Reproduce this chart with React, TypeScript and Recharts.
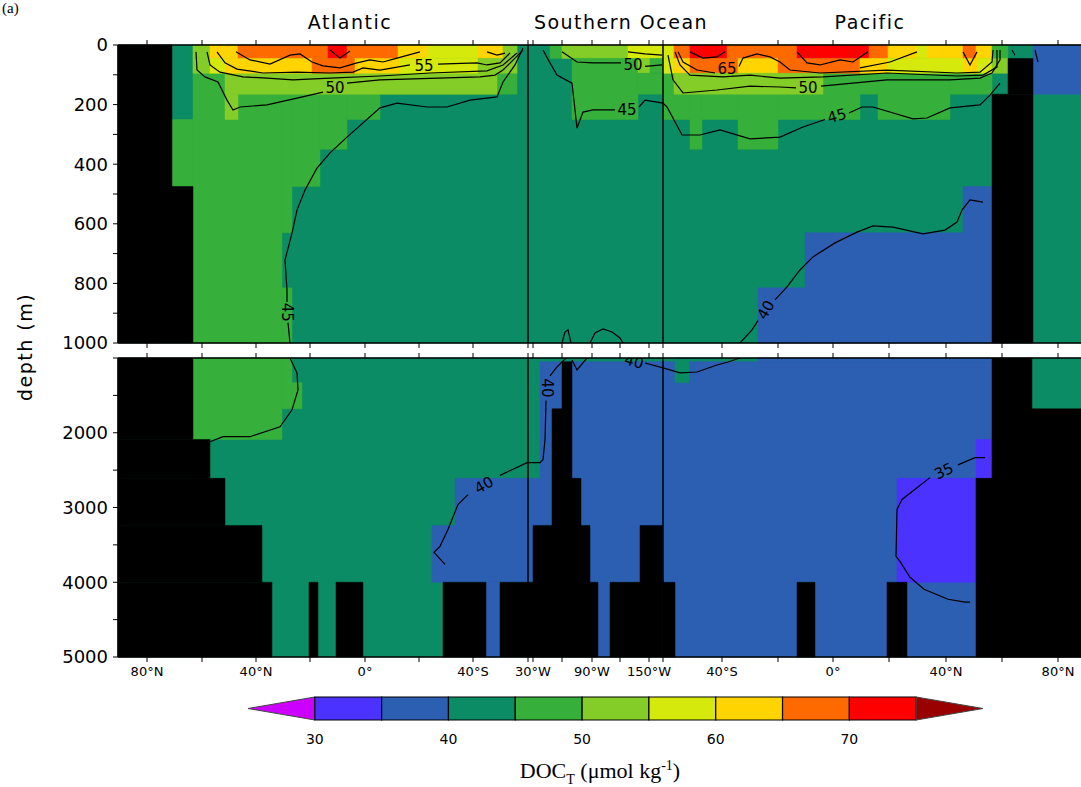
import React from "react";
import {
  ComposedChart,
  XAxis,
  YAxis,
  ReferenceArea,
  ReferenceLine,
  Scatter,
} from "recharts";

// DOC_T classes (umol/kg): lower bound of each 5-unit class and its colour
const binLows = [30, 35, 40, 45, 50, 55, 60, 65, 70];
const binColors = [
  "#4b32ff",
  "#2c5fb2",
  "#0b8c64",
  "#37af3b",
  "#84cc27",
  "#d5ea0c",
  "#ffd400",
  "#ff6a00",
  "#ff0000",
];
const underColor = "#cc00ff";
const overColor = "#990000";
const colorbarTicks = [30, 40, 50, 60, 70];

// distance along the section (grid units): Atlantic 90N -> Southern Ocean -> Pacific 90N
const sectionTicks = [29, 84, 138, 192, 247, 301, 355, 410, 415, 444, 474, 502, 531, 545, 604, 660, 715, 771, 828, 884, 940];
const sectionTickNames = ["80°N", "", "40°N", "", "0°", "", "40°S", "", "30°W", "", "90°W", "", "150°W", "", "40°S", "", "0°", "", "40°N", "", "80°N"];
const basinBreaks = [410, 545];

const upperDepthTicks = [0, 100, 200, 300, 400, 500, 600, 700, 800, 900, 1000];
const deepDepthTicks = [1000, 1500, 2000, 2500, 3000, 3500, 4000, 4500, 5000];

// cells: [dist from, dist to, depth from, depth to, class (0 = land)], painted in order
const upperCells = [
  [0, 963, 0, 1000, 40],
  // Atlantic
  [54, 75, 250, 475, 45],
  [75, 164, 0, 1000, 45],
  [164, 174, 0, 630, 45],
  [164, 174, 815, 1000, 45],
  [174, 202, 0, 475, 45],
  [202, 229, 0, 350, 45],
  [229, 262, 0, 250, 45],
  [262, 399, 0, 165, 45],
  [107, 379, 95, 165, 50],
  [107, 120, 165, 250, 50],
  [75, 92, 0, 45, 50],
  [92, 120, 0, 45, 60],
  [120, 210, 0, 45, 65],
  [210, 229, 0, 45, 70],
  [229, 280, 0, 45, 65],
  [280, 309, 0, 45, 60],
  [309, 360, 0, 45, 55],
  [360, 385, 0, 45, 60],
  [385, 399, 0, 45, 50],
  [75, 92, 45, 95, 50],
  [92, 107, 45, 95, 55],
  [107, 194, 45, 95, 60],
  [194, 237, 45, 95, 65],
  [237, 282, 45, 95, 60],
  [282, 360, 45, 95, 55],
  [360, 399, 45, 95, 50],
  [0, 54, 0, 1000, 0],
  [54, 75, 475, 1000, 0],
  // Southern Ocean
  [432, 444, 0, 45, 45],
  [444, 510, 0, 45, 50],
  [510, 545, 0, 45, 55],
  [454, 520, 45, 250, 45],
  [520, 532, 45, 95, 50],
  [532, 545, 45, 95, 45],
  [520, 545, 95, 165, 45],
  // Pacific
  [545, 572, 0, 250, 45],
  [572, 584, 0, 350, 45],
  [584, 620, 0, 250, 45],
  [620, 660, 0, 350, 45],
  [660, 742, 0, 250, 45],
  [742, 760, 0, 165, 45],
  [760, 832, 0, 250, 45],
  [832, 874, 0, 165, 45],
  [545, 556, 0, 45, 55],
  [556, 572, 0, 45, 65],
  [572, 609, 0, 45, 70],
  [609, 679, 0, 45, 65],
  [679, 751, 0, 45, 70],
  [751, 770, 0, 45, 65],
  [770, 799, 0, 45, 60],
  [799, 809, 0, 45, 55],
  [809, 845, 0, 45, 60],
  [845, 858, 0, 45, 65],
  [858, 874, 0, 45, 60],
  [874, 890, 0, 45, 45],
  [915, 963, 0, 165, 35],
  [545, 556, 45, 95, 55],
  [556, 572, 45, 95, 60],
  [572, 620, 45, 95, 65],
  [620, 660, 45, 95, 60],
  [660, 742, 45, 95, 65],
  [742, 770, 45, 95, 60],
  [770, 845, 45, 95, 55],
  [845, 860, 45, 95, 60],
  [860, 874, 45, 95, 55],
  [874, 890, 45, 95, 50],
  [556, 705, 95, 165, 50],
  [640, 687, 815, 1000, 35],
  [687, 845, 630, 1000, 35],
  [845, 874, 475, 1000, 35],
  [874, 915, 165, 1000, 0],
  [890, 915, 45, 165, 0],
];

const deepCells = [
  [0, 963, 1000, 5000, 40],
  // Atlantic
  [75, 164, 1000, 2090, 45],
  [164, 174, 1000, 1680, 45],
  [174, 184, 1330, 1680, 45],
  [314, 337, 3240, 4000, 35],
  [337, 410, 2610, 4000, 35],
  [368, 382, 4000, 5000, 35],
  [0, 75, 1000, 2090, 0],
  [0, 92, 2090, 2610, 0],
  [0, 107, 2610, 3240, 0],
  [0, 144, 3240, 4000, 0],
  [0, 154, 4000, 5000, 0],
  [191, 200, 4000, 5000, 0],
  [218, 245, 4000, 5000, 0],
  [325, 368, 4000, 5000, 0],
  [382, 410, 4000, 5000, 0],
  // Southern Ocean
  [422, 545, 1050, 5000, 35],
  [410, 422, 2610, 4000, 35],
  [444, 454, 1050, 5000, 0],
  [434, 444, 1680, 5000, 0],
  [454, 463, 2610, 5000, 0],
  [415, 434, 3240, 5000, 0],
  [463, 472, 3240, 5000, 0],
  [410, 415, 4000, 5000, 0],
  [472, 480, 4000, 5000, 0],
  [492, 522, 4000, 5000, 0],
  [522, 545, 3240, 5000, 0],
  // Pacific
  [545, 874, 1050, 5000, 35],
  [640, 874, 1000, 1050, 35],
  [557, 571, 1000, 1330, 40],
  [779, 858, 2610, 4000, 30],
  [858, 874, 2090, 2610, 30],
  [545, 557, 4000, 5000, 0],
  [679, 697, 4000, 5000, 0],
  [769, 789, 4000, 5000, 0],
  [858, 963, 2610, 5000, 0],
  [874, 914, 1000, 5000, 0],
  [914, 963, 1680, 5000, 0],
];

// contour lines as [dist, depth] segments (gaps left for labels)
const upperContours = [
  [[405, 10], [397, 67], [385, 124], [379, 174], [352, 185], [329, 208], [309, 208], [279, 195], [262, 211], [229, 309], [212, 362], [199, 413], [187, 487], [179, 554], [174, 631], [167, 722], [169, 822], [169, 862]],
  [[170, 932], [172, 1000]],
  [[78, 23], [79, 84], [87, 107], [100, 124], [109, 185], [115, 218], [122, 208], [149, 201], [179, 178], [205, 158]],
  [[229, 128], [262, 117], [362, 107], [377, 101], [385, 84], [405, 17]],
  [[89, 23], [92, 67], [102, 91], [125, 107], [149, 111], [175, 117], [212, 111], [262, 104], [312, 94], [369, 87], [385, 67], [399, 27]],
  [[99, 23], [107, 60], [119, 81], [145, 94], [179, 91], [212, 94], [235, 91], [245, 77], [262, 84], [292, 67]],
  [[320, 64], [359, 60], [369, 67], [382, 60], [392, 27]],
  [[118, 23], [132, 50], [152, 64], [172, 34], [182, 30], [194, 57], [205, 70], [222, 77], [239, 60], [252, 50], [265, 57], [279, 44], [302, 23]],
  [[212, 17], [222, 44], [232, 20]],
  [[369, 23], [379, 34], [387, 27]],
  [[444, 23], [459, 57], [475, 60], [503, 60]],
  [[527, 72], [544, 67]],
  [[510, 23], [527, 30], [544, 34]],
  [[425, 17], [432, 60], [439, 101], [454, 128], [459, 279], [465, 225], [475, 218], [497, 218]],
  [[521, 208], [527, 185], [545, 195], [549, 208], [564, 302], [582, 302], [602, 285], [632, 315], [662, 309], [685, 275], [707, 250]],
  [[731, 228], [744, 208], [755, 208], [795, 248], [809, 245], [832, 211], [862, 201], [872, 168], [882, 128]],
  [[550, 34], [555, 117], [565, 161], [599, 151], [632, 138], [662, 141], [678, 144]],
  [[703, 138], [769, 117], [832, 117], [862, 111], [874, 94], [882, 50], [882, 17]],
  [[557, 23], [562, 67], [572, 101], [605, 107], [632, 101], [662, 111], [705, 107], [769, 94], [839, 104], [865, 101], [879, 74], [879, 17]],
  [[560, 23], [565, 57], [579, 84], [597, 94]],
  [[621, 72], [625, 44], [639, 30], [652, 40], [662, 57], [672, 84], [702, 94], [769, 84], [839, 94], [862, 91], [874, 57], [875, 17]],
  [[742, 77], [772, 57], [799, 23]],
  [[845, 23], [852, 67], [859, 23]],
  [[572, 23], [585, 44], [599, 40], [607, 23]],
  [[679, 23], [689, 60], [702, 67], [722, 50], [735, 57], [750, 23]],
  [[894, 17], [897, 34]],
  [[917, 17], [920, 57]],
  [[444, 1000], [447, 963], [450, 956], [453, 1000]],
  [[472, 1000], [477, 966], [485, 953], [494, 963], [502, 983], [505, 1000]],
  [[622, 1000], [634, 956], [640, 925]],
  [[657, 855], [669, 812], [682, 755], [695, 711], [717, 664], [739, 628], [755, 607], [775, 611], [805, 634], [827, 621], [839, 594], [844, 554], [852, 520], [865, 527]],
];

const deepContours = [
  [[172, 1000], [179, 1200], [180, 1427], [174, 1693], [162, 1920], [132, 2053], [105, 2053], [92, 2120]],
  [[448, 1000], [439, 1120], [432, 1240]],
  [[428, 1570], [427, 2093], [425, 2360], [422, 2400], [409, 2400], [382, 2570]],
  [[350, 2827], [340, 2960], [334, 3160], [330, 3293], [322, 3520], [316, 3600], [327, 3760]],
  [[527, 1067], [545, 1133], [562, 1200], [579, 1187], [599, 1093], [610, 1053], [622, 1000]],
  [[454, 1027], [459, 1160], [469, 1000]],
  [[867, 2333], [857, 2333], [840, 2430]],
  [[812, 2600], [784, 2893], [779, 3027], [778, 3653], [782, 3720], [792, 3933], [806, 4093], [830, 4227], [847, 4267], [852, 4267]],
];

// contour labels: dist, depth, text, angle
const upperLabels = [
  { u: 169, d: 897, t: "45", a: 90 },
  { u: 217, d: 144, t: "50", a: 0 },
  { u: 306, d: 71, t: "55", a: 0 },
  { u: 515, d: 67, t: "50", a: 0 },
  { u: 509, d: 218, t: "45", a: 0 },
  { u: 719, d: 238, t: "45", a: -15 },
  { u: 690, d: 144, t: "50", a: 0 },
  { u: 609, d: 81, t: "65", a: 0 },
  { u: 648, d: 889, t: "40", a: -60 },
];
const deepLabels = [
  { u: 429, d: 1400, t: "40", a: 90 },
  { u: 366, d: 2700, t: "40", a: -30 },
  { u: 516, d: 1050, t: "40", a: 15 },
  { u: 826, d: 2515, t: "35", a: -25 },
];

const font = "'DejaVu Sans', sans-serif";

const colorOf = (v: number) => (v === 0 ? "#000000" : binColors[binLows.indexOf(v)]);

function ContourLabel(props: any) {
  const { cx, cy, payload } = props;
  if (cx == null || cy == null) return <g />;
  return (
    <text
      x={cx}
      y={cy}
      transform={`rotate(${payload.a} ${cx} ${cy})`}
      textAnchor="middle"
      dominantBaseline="central"
      fontSize={15}
      fontFamily={font}
      fill="#000"
    >
      {payload.t}
    </text>
  );
}

function Panel({ cells, contours, labels, domain, depthTicks, depthLabel, height, topH, bottomH, showNames }: any) {
  const axisLine = { stroke: "#000", strokeWidth: 1.5 };
  return (
    <ComposedChart width={1081} height={height} margin={{ top: 0, right: 0, bottom: 0, left: 0 }}>
      {cells.map(([x1, x2, d1, d2, v]: number[], i: number) => (
        <ReferenceArea
          key={i}
          x1={x1}
          x2={x2}
          y1={d1}
          y2={d2}
          fill={colorOf(v)}
          fillOpacity={1}
          stroke={colorOf(v)}
          strokeWidth={0.5}
        />
      ))}
      {basinBreaks.map((b) => (
        <ReferenceLine key={b} x={b} stroke="#000" strokeWidth={1.5} />
      ))}
      <XAxis
        xAxisId="top"
        orientation="top"
        type="number"
        dataKey="u"
        domain={[0, 963]}
        ticks={sectionTicks}
        interval={0}
        height={topH}
        tickSize={5}
        tickFormatter={() => ""}
        axisLine={axisLine}
        tickLine={{ stroke: "#000" }}
        allowDataOverflow
      />
      <XAxis
        type="number"
        dataKey="u"
        domain={[0, 963]}
        ticks={sectionTicks}
        interval={0}
        height={bottomH}
        tickSize={5}
        tickMargin={5}
        tickFormatter={(v: number) => (showNames ? sectionTickNames[sectionTicks.indexOf(v)] : "")}
        axisLine={axisLine}
        tickLine={{ stroke: "#000" }}
        tick={{ fill: "#000", fontSize: 13, fontFamily: font }}
        allowDataOverflow
      />
      <YAxis
        type="number"
        dataKey="d"
        domain={domain}
        reversed
        ticks={depthTicks}
        interval={0}
        width={118}
        tickSize={5}
        tickMargin={5}
        tickFormatter={depthLabel}
        axisLine={axisLine}
        tickLine={{ stroke: "#000" }}
        tick={{ fill: "#000", fontSize: 18, fontFamily: font }}
        allowDataOverflow
      />
      {contours.map((seg: number[][], i: number) => (
        <Scatter
          key={i}
          data={seg.map(([u, d]) => ({ u, d }))}
          fill="#000"
          line={{ stroke: "#000", strokeWidth: 1.2 }}
          shape={() => <g />}
          isAnimationActive={false}
        />
      ))}
      <Scatter data={labels} shape={ContourLabel} isAnimationActive={false} />
    </ComposedChart>
  );
}

// one invisible point per class so the colour-bar chart has data for its axes
const colorbarPoints = binLows.map((lo) => ({ v: lo, y: 0.5 }));

function ColorBar() {
  return (
    <ComposedChart width={1081} height={62} margin={{ top: 7, right: 98, bottom: 0, left: 248 }}>
      <ReferenceArea
        x1={25}
        x2={30}
        y1={0}
        y2={1}
        shape={(p: any) => (
          <path
            d={`M${p.x + p.width},${p.y}L${p.x},${p.y + p.height / 2}L${p.x + p.width},${p.y + p.height}Z`}
            fill={underColor}
            stroke="#444"
            strokeWidth={1}
          />
        )}
      />
      {binLows.map((lo, i) => (
        <ReferenceArea
          key={lo}
          x1={lo}
          x2={lo + 5}
          y1={0}
          y2={1}
          fill={binColors[i]}
          fillOpacity={1}
          stroke="#000"
          strokeWidth={1.2}
        />
      ))}
      <ReferenceArea
        x1={75}
        x2={80}
        y1={0}
        y2={1}
        shape={(p: any) => (
          <path
            d={`M${p.x},${p.y}L${p.x + p.width},${p.y + p.height / 2}L${p.x},${p.y + p.height}Z`}
            fill={overColor}
            stroke="#444"
            strokeWidth={1}
          />
        )}
      />
      <XAxis
        type="number"
        dataKey="v"
        domain={[25, 80]}
        ticks={colorbarTicks}
        interval={0}
        axisLine={false}
        tickLine={false}
        tickSize={8}
        tickMargin={6}
        height={32}
        tick={{ fill: "#000", fontSize: 14, fontFamily: font }}
        allowDataOverflow
      />
      <YAxis hide type="number" dataKey="y" domain={[0, 1]} allowDataOverflow />
      <Scatter data={colorbarPoints} shape={() => <g />} isAnimationActive={false} />
    </ComposedChart>
  );
}

const titleStyle: React.CSSProperties = {
  position: "absolute",
  top: 11,
  width: 300,
  textAlign: "center",
  fontSize: 19,
  letterSpacing: 1.5,
  fontFamily: font,
  lineHeight: "22px",
};

export default function App() {
  return (
    <div
      style={{
        position: "absolute",
        left: 0,
        top: 0,
        width: 1081,
        height: 787,
        overflow: "hidden",
        background: "#fff",
        fontFamily: font,
      }}
    >
      <div style={{ position: "absolute", left: 2, top: 0, fontSize: 15, lineHeight: "17px", fontFamily: "'Liberation Serif', serif" }}>
        (a)
      </div>
      <div style={{ ...titleStyle, left: 200 }}>Atlantic</div>
      <div style={{ ...titleStyle, left: 471 }}>Southern Ocean</div>
      <div style={{ ...titleStyle, left: 720 }}>Pacific</div>

      <div style={{ position: "absolute", left: 0, top: 0 }}>
        <Panel
          cells={upperCells}
          contours={upperContours}
          labels={upperLabels}
          domain={[0, 1000]}
          depthTicks={upperDepthTicks}
          depthLabel={(v: number) => (v % 200 === 0 ? String(v) : "")}
          height={360}
          topH={45}
          bottomH={17}
          showNames={false}
        />
      </div>
      <div style={{ position: "absolute", left: 0, top: 343 }}>
        <Panel
          cells={deepCells}
          contours={deepContours}
          labels={deepLabels}
          domain={[1000, 5000]}
          depthTicks={deepDepthTicks}
          depthLabel={(v: number) => (v % 1000 === 0 && v !== 1000 ? String(v) : "")}
          height={354}
          topH={15}
          bottomH={40}
          showNames={true}
        />
      </div>

      <div
        style={{
          position: "absolute",
          left: -75,
          top: 335,
          width: 200,
          textAlign: "center",
          transform: "rotate(-90deg)",
          fontSize: 19,
          letterSpacing: 1.5,
          lineHeight: "24px",
        }}
      >
        depth (m)
      </div>

      <div style={{ position: "absolute", left: 0, top: 690 }}>
        <ColorBar />
      </div>
      <div
        style={{
          position: "absolute",
          left: 400,
          top: 752,
          width: 400,
          textAlign: "center",
          fontSize: 22,
          lineHeight: "28px",
          fontFamily: "'Liberation Serif', serif",
        }}
      >
        DOC<sub style={{ fontSize: 14 }}>T</sub> (μmol kg<sup style={{ fontSize: 14 }}>-1</sup>)
      </div>
    </div>
  );
}
